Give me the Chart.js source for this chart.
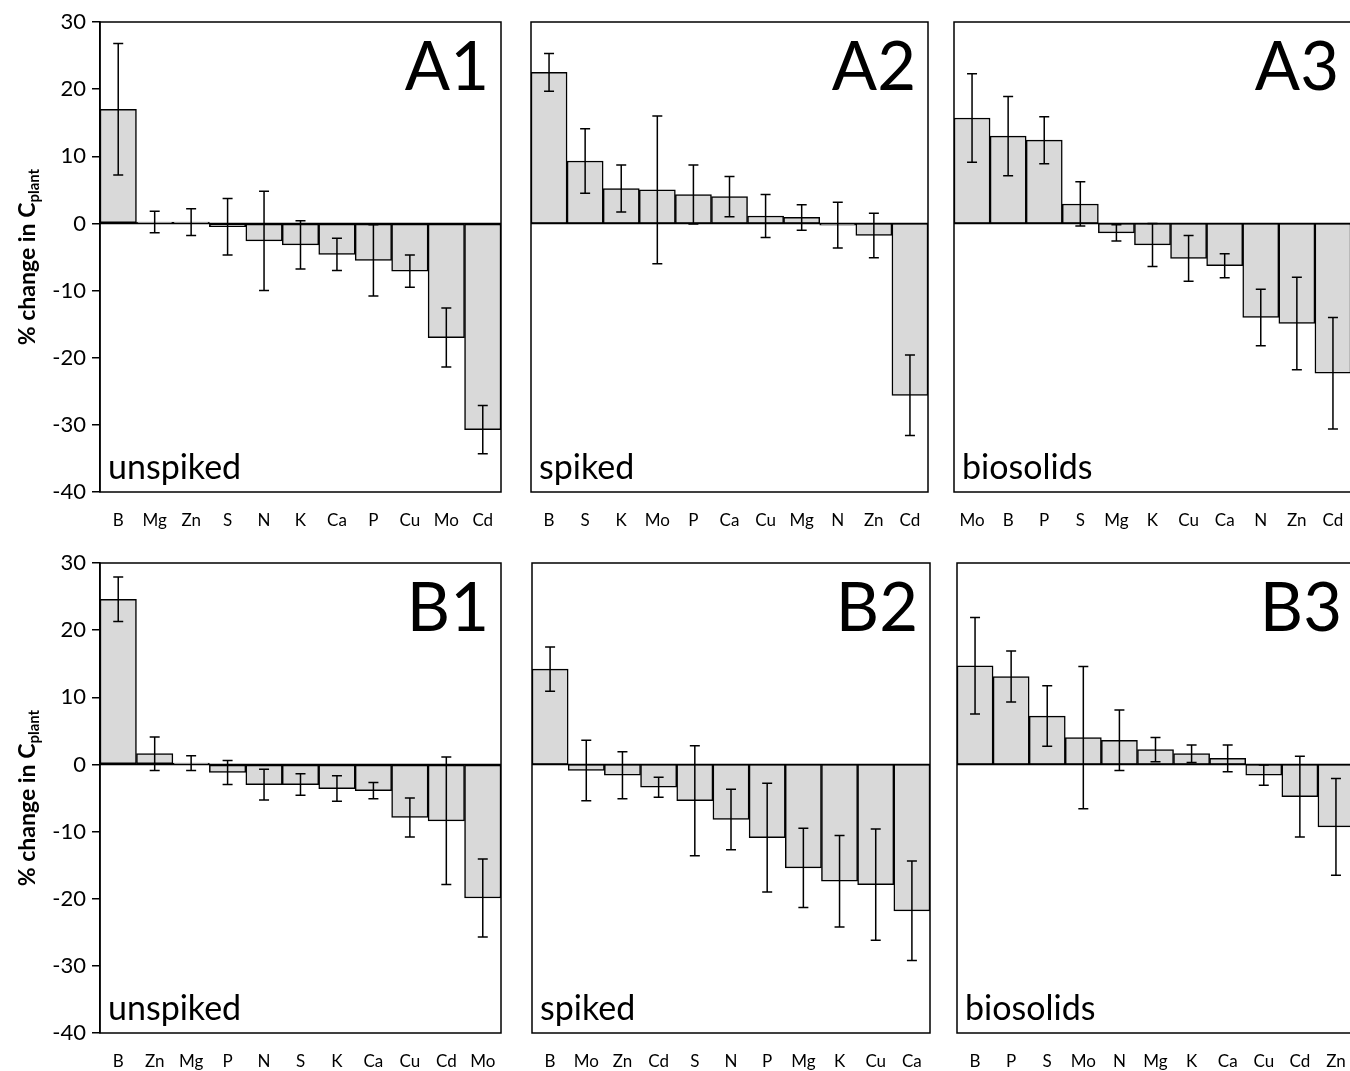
<!DOCTYPE html>
<html>
<head>
<meta charset="utf-8">
<script src="https://cdn.jsdelivr.net/npm/chart.js@4.4.1/dist/chart.umd.min.js"></script>
<style>
  html, body { margin: 0; padding: 0; background: #fff; overflow: hidden; }
  #wrap { position: relative; width: 1350px; height: 1071px; overflow: hidden; }
  #wrap canvas { position: absolute; }
</style>
</head>
<body>
<div id="wrap"></div>
<script>
// % change in plant concentration per element, sorted per panel
const a1Labels = ['B', 'Mg', 'Zn', 'S', 'N', 'K', 'Ca', 'P', 'Cu', 'Mo', 'Cd'];
const a1Values = [17.0, 0.2, 0.2, -0.5, -2.6, -3.2, -4.6, -5.5, -7.1, -17.0, -30.7];
const a1Errors = [9.8, 1.6, 2.0, 4.2, 7.4, 3.6, 2.4, 5.3, 2.4, 4.4, 3.6];

const a2Labels = ['B', 'S', 'K', 'Mo', 'P', 'Ca', 'Cu', 'Mg', 'N', 'Zn', 'Cd'];
const a2Values = [22.5, 9.3, 5.2, 5.0, 4.3, 4.0, 1.1, 0.9, -0.25, -1.8, -25.6];
const a2Errors = [2.8, 4.8, 3.5, 11.0, 4.4, 3.0, 3.2, 1.9, 3.4, 3.3, 6.0];

const a3Labels = ['Mo', 'B', 'P', 'S', 'Mg', 'K', 'Cu', 'Ca', 'N', 'Zn', 'Cd'];
const a3Values = [15.7, 13.0, 12.4, 2.9, -1.4, -3.2, -5.2, -6.3, -14.0, -14.9, -22.3];
const a3Errors = [6.6, 5.9, 3.5, 3.3, 1.2, 3.2, 3.4, 1.8, 4.2, 6.9, 8.3];

const b1Labels = ['B', 'Zn', 'Mg', 'P', 'N', 'S', 'K', 'Ca', 'Cu', 'Cd', 'Mo'];
const b1Values = [24.6, 1.6, 0.2, -1.2, -3.0, -3.0, -3.6, -3.9, -7.9, -8.4, -19.9];
const b1Errors = [3.3, 2.5, 1.1, 1.8, 2.3, 1.6, 1.9, 1.2, 2.9, 9.5, 5.8];

const b2Labels = ['B', 'Mo', 'Zn', 'Cd', 'S', 'N', 'P', 'Mg', 'K', 'Cu', 'Ca'];
const b2Values = [14.2, -0.9, -1.6, -3.4, -5.4, -8.2, -10.9, -15.4, -17.4, -17.9, -21.8];
const b2Errors = [3.3, 4.5, 3.5, 1.5, 8.2, 4.5, 8.1, 5.9, 6.8, 8.3, 7.4];

const b3Labels = ['B', 'P', 'S', 'Mo', 'N', 'Mg', 'K', 'Ca', 'Cu', 'Cd', 'Zn'];
const b3Values = [14.7, 13.1, 7.2, 4.0, 3.6, 2.2, 1.6, 0.9, -1.6, -4.8, -9.3];
const b3Errors = [7.2, 3.8, 4.5, 10.6, 4.5, 1.8, 1.3, 2.0, 1.5, 6.0, 7.2];

const yTicks = [-40, -30, -20, -10, 0, 10, 20, 30];

const FONT = 'Lato, "Open Sans", sans-serif';
const BAR_FILL = '#d9d9d9';
const INK = '#000';

// frame boxes (plot area) of the six panels, in page pixels
const panels = [
  { tag: 'A1', soil: 'unspiked',  labels: a1Labels, values: a1Values, errors: a1Errors, l: 100, r: 501,  t: 22,  b: 492,  axis: true },
  { tag: 'A2', soil: 'spiked',    labels: a2Labels, values: a2Values, errors: a2Errors, l: 531, r: 928,  t: 22,  b: 492,  axis: false },
  { tag: 'A3', soil: 'biosolids', labels: a3Labels, values: a3Values, errors: a3Errors, l: 954, r: 1351, t: 22,  b: 492,  axis: false },
  { tag: 'B1', soil: 'unspiked',  labels: b1Labels, values: b1Values, errors: b1Errors, l: 100, r: 501,  t: 563, b: 1033, axis: true },
  { tag: 'B2', soil: 'spiked',    labels: b2Labels, values: b2Values, errors: b2Errors, l: 532, r: 930,  t: 563, b: 1033, axis: false },
  { tag: 'B3', soil: 'biosolids', labels: b3Labels, values: b3Values, errors: b3Errors, l: 957, r: 1354, t: 563, b: 1033, axis: false }
];

// error bars, zero line, frame and the in-panel texts
const panelDecor = {
  id: 'panelDecor',
  afterDatasetsDraw(chart, args, opts) {
    const { ctx, chartArea: a, scales: { x, y } } = chart;
    const data = chart.data.datasets[0].data;
    ctx.save();
    ctx.strokeStyle = INK;
    ctx.lineWidth = 1.5;

    opts.errors.forEach((e, i) => {
      const cx = x.getPixelForValue(i);
      const hi = y.getPixelForValue(data[i] + e);
      const lo = y.getPixelForValue(data[i] - e);
      ctx.beginPath();
      ctx.moveTo(cx, hi); ctx.lineTo(cx, lo);
      ctx.moveTo(cx - 5, hi); ctx.lineTo(cx + 5, hi);
      ctx.moveTo(cx - 5, lo); ctx.lineTo(cx + 5, lo);
      ctx.stroke();
    });

    const y0 = y.getPixelForValue(0);
    ctx.beginPath();
    ctx.moveTo(a.left, y0); ctx.lineTo(a.right, y0);
    ctx.stroke();

    ctx.strokeRect(a.left, a.top, a.right - a.left, a.bottom - a.top);

    ctx.fillStyle = INK;
    ctx.textBaseline = 'alphabetic';
    ctx.font = '67px ' + FONT;
    ctx.textAlign = 'right';
    ctx.fillText(opts.tag, a.right - 12, a.top + 68);
    ctx.font = '34px ' + FONT;
    ctx.textAlign = 'left';
    ctx.fillText(opts.soil, a.left + 8, a.bottom - 13);

    if (opts.yTitle) {
      const main = '% change in C', sub = 'plant';
      ctx.font = 'bold 23px ' + FONT;
      const mw = ctx.measureText(main).width;
      ctx.font = 'bold 15px ' + FONT;
      const sw = ctx.measureText(sub).width;
      ctx.translate(26, (a.top + a.bottom) / 2);
      ctx.rotate(-Math.PI / 2);
      const start = -(mw + sw) / 2;
      ctx.font = 'bold 23px ' + FONT;
      ctx.fillText(main, start, 9);
      ctx.font = 'bold 15px ' + FONT;
      ctx.fillText(sub, start + mw, 13);
    }
    ctx.restore();
  }
};

const wrap = document.getElementById('wrap');
const TOP_PAD = 24, SIDE_PAD = 24, X_AXIS_H = 50;

panels.forEach(p => {
  const yw = p.axis ? p.l : SIDE_PAD;
  const canvas = document.createElement('canvas');
  const w = yw + (p.r - p.l) + SIDE_PAD;
  const h = TOP_PAD + (p.b - p.t) + X_AXIS_H;
  canvas.width = w; canvas.height = h;
  canvas.style.left = (p.l - yw) + 'px';
  canvas.style.top = (p.t - TOP_PAD) + 'px';
  canvas.style.width = w + 'px';
  canvas.style.height = h + 'px';
  wrap.appendChild(canvas);

  new Chart(canvas, {
    type: 'bar',
    data: {
      labels: p.labels,
      datasets: [{
        data: p.values,
        backgroundColor: BAR_FILL,
        borderColor: INK,
        borderWidth: 1.5,
        borderSkipped: false,
        categoryPercentage: 1,
        barPercentage: 1
      }]
    },
    options: {
      responsive: false,
      animation: false,
      devicePixelRatio: 1,
      layout: { padding: { left: 0, right: SIDE_PAD, top: TOP_PAD, bottom: 0 } },
      scales: {
        x: {
          type: 'category',
          grid: { display: false, drawTicks: false },
          border: { display: false },
          ticks: { color: INK, font: { family: FONT, size: 17 }, padding: 18, maxRotation: 0, autoSkip: false },
          afterFit: s => { s.height = X_AXIS_H; }
        },
        y: {
          min: -40, max: 30,
          afterBuildTicks: s => { s.ticks = yTicks.map(v => ({ value: v })); },
          grid: { display: p.axis, drawOnChartArea: false, drawTicks: true, tickLength: 8, color: INK, lineWidth: 1.5 },
          border: { display: p.axis, color: INK, width: 1.5 },
          ticks: { display: p.axis, color: INK, font: { family: FONT, size: 22 }, padding: 6 },
          afterFit: s => { s.width = yw; }
        }
      },
      plugins: {
        legend: { display: false },
        tooltip: { enabled: false },
        panelDecor: { tag: p.tag, soil: p.soil, errors: p.errors, yTitle: p.axis }
      }
    },
    plugins: [panelDecor]
  });
});
</script>
</body>
</html>
